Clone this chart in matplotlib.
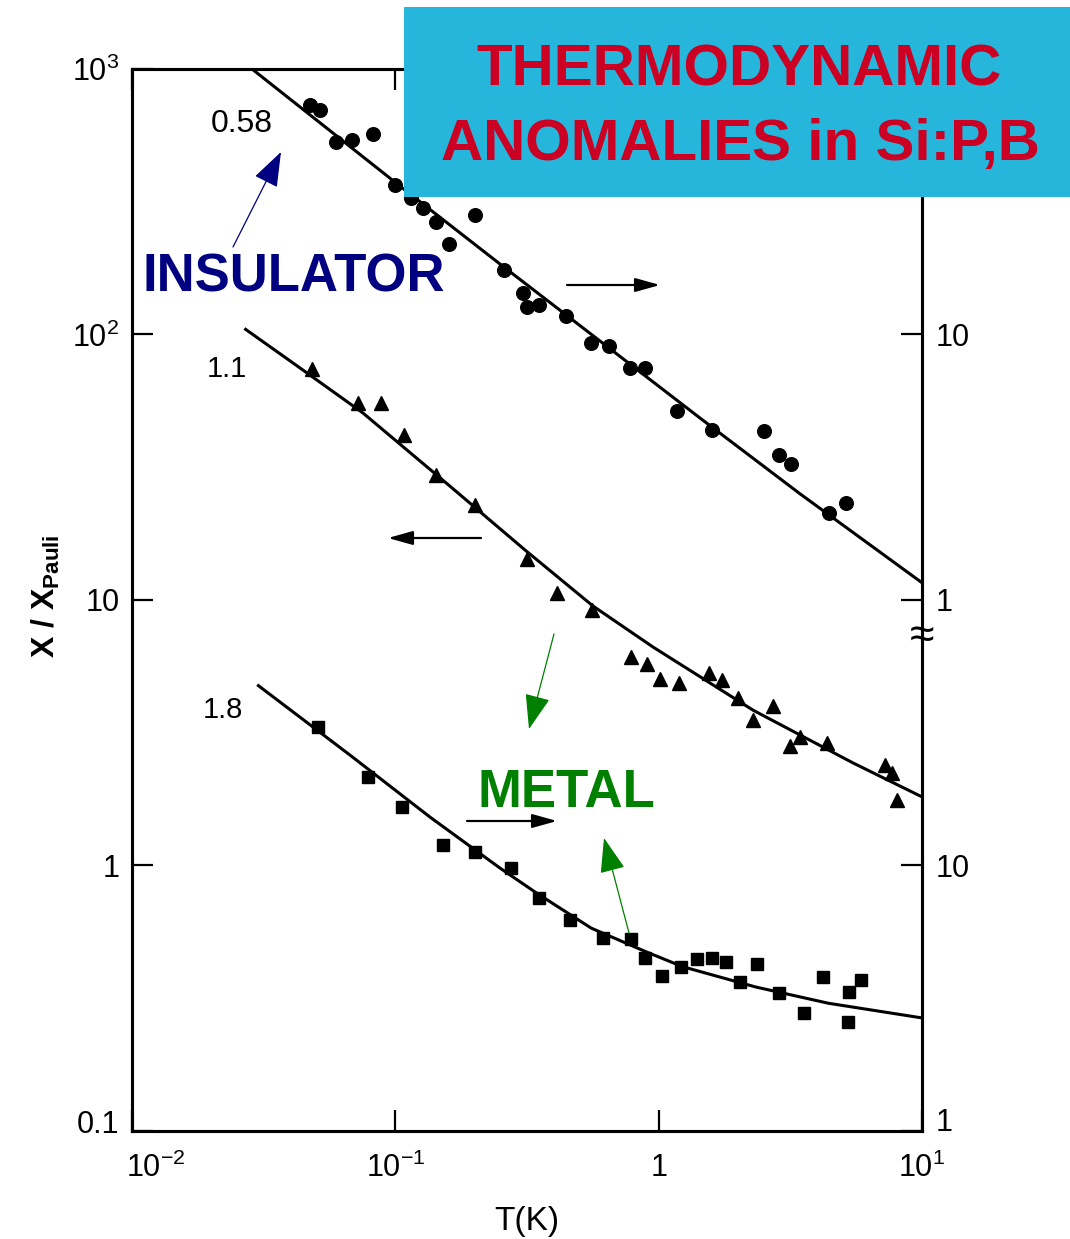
import matplotlib
matplotlib.use('Agg')
import matplotlib.pyplot as plt
from matplotlib.patches import Rectangle, FancyArrowPatch, ArrowStyle
from matplotlib.transforms import ScaledTranslation

plt.rcParams['font.family'] = ['Liberation Sans', 'DejaVu Sans']
plt.rcParams['mathtext.fontset'] = 'custom'
plt.rcParams['mathtext.rm'] = 'Liberation Sans'
plt.rcParams['mathtext.it'] = 'Liberation Sans:italic'
plt.rcParams['mathtext.bf'] = 'Liberation Sans:bold'

# ---------------- data ----------------
# n/nc = 0.58 (circles, right axis)
T_058 = [0.0474, 0.0518, 0.0593, 0.0682, 0.0820, 0.0998, 0.115, 0.127, 0.143,
         0.160, 0.201, 0.258, 0.305, 0.315, 0.352, 0.445, 0.553, 0.649, 0.778,
         0.885, 1.17, 1.60, 2.51, 2.86, 3.18, 4.42, 5.15]
chi_058 = [731, 701, 532, 542, 569, 366, 327, 299, 265, 219, 282, 175, 143, 127,
           129, 117, 92.9, 90.6, 74.7, 75.0, 51.4, 43.6, 43.4, 35.2, 32.5, 21.2, 23.2]
fitT_058 = [0.02856, 0.1042, 0.250, 0.599, 1.436, 3.44, 10.0]
fitchi_058 = [1000, 362, 184, 94.4, 48.4, 25.1, 11.6]

# n/nc = 1.1 (triangles, left axis)
T_11 = [0.0481, 0.0724, 0.0882, 0.1075, 0.1423, 0.201, 0.316, 0.411, 0.557,
        0.783, 0.906, 1.01, 1.198, 1.549, 1.737, 2.008, 2.289, 2.727, 3.155,
        3.444, 4.348, 7.24, 7.68, 8.02]
chi_11 = [73.9, 55.0, 55.0, 41.8, 29.5, 22.8, 14.3, 10.65, 9.15, 6.10, 5.73,
          5.02, 4.85, 5.29, 4.99, 4.25, 3.52, 3.98, 2.82, 3.05, 2.90, 2.38, 2.22, 1.76]
fitT_11 = [0.0270, 0.0435, 0.0753, 0.1613, 0.311, 0.563, 0.952, 2.283, 5.47, 10.0]
fitchi_11 = [104.5, 74.7, 50.6, 26.8, 15.4, 9.48, 6.64, 3.84, 2.43, 1.81]

# n/nc = 1.8 (squares, right axis)
T_18 = [0.0510, 0.0790, 0.1057, 0.1522, 0.201, 0.276, 0.3526, 0.4607, 0.6166,
        0.783, 0.890, 1.027, 1.213, 1.399, 1.591, 1.795, 2.034, 2.371, 2.871,
        3.566, 4.226, 5.232, 5.301, 5.887]
chi_18 = [3.33, 2.155, 1.661, 1.191, 1.124, 0.976, 0.750, 0.622, 0.530, 0.527,
          0.446, 0.382, 0.415, 0.442, 0.446, 0.433, 0.364, 0.424, 0.331, 0.278,
          0.380, 0.256, 0.334, 0.369]
fitT_18 = [0.0302, 0.0673, 0.1354, 0.2497, 0.3438, 0.554, 0.896, 1.232, 2.333, 4.42, 10.0]
fitchi_18 = [4.75, 2.60, 1.519, 0.976, 0.786, 0.580, 0.472, 0.415, 0.348, 0.302, 0.266]

xticks = [0.01, 0.1, 1, 10]
xticklabels = [r'$\mathregular{10^{-2}}$', r'$\mathregular{10^{-1}}$', '1',
               r'$\mathregular{10^{1}}$']
yticks = [0.1, 1, 10, 100, 1000]
yticklabels = ['0.1', '1', '10', r'$\mathregular{10^{2}}$', r'$\mathregular{10^{3}}$']
rticks = [100, 10, 1, 0.1]
rticklabels = ['10', '1', '10', '1']
series_labels = ['0.58', '1.1', '1.8']

# ---------------- figure ----------------
W, H = 1070, 1239
fig = plt.figure(figsize=(W / 100, H / 100), dpi=100)


def fx(px):
    return px / W


def fy(py):
    return 1 - py / H


ax = fig.add_axes([132 / W, 1 - 1130.7 / H, 790 / W, 1061.7 / H])
ax.set_xscale('log')
ax.set_yscale('log')
ax.set_xlim(0.01, 10)
ax.set_ylim(0.1, 1000)

lw_fit = 2.2
ax.plot(fitT_058, fitchi_058, color='black', lw=lw_fit, zorder=2)
ax.plot(fitT_11, fitchi_11, color='black', lw=lw_fit, zorder=2)
ax.plot(fitT_18, fitchi_18, color='black', lw=lw_fit, zorder=2)
ax.plot(T_058, chi_058, 'o', color='black', ms=9.8, zorder=3)
ax.plot(T_11, chi_11, '^', color='black', ms=10, zorder=3)
ax.plot(T_18, chi_18, 's', color='black', ms=9.3, zorder=3)

for s in ax.spines.values():
    s.set_linewidth(2.2)

ax.set_xticks(xticks)
ax.set_xticklabels(xticklabels)
ax.set_yticks(yticks)
ax.set_yticklabels(yticklabels)
ax.minorticks_off()
ax.tick_params(axis='x', which='both', direction='in', length=15, width=1.6,
               labelsize=22, pad=16, top=True)
ax.tick_params(axis='y', which='both', direction='in', length=15, width=1.6,
               labelsize=22, pad=9)
ax.minorticks_off()

ax2 = ax.twinx()
ax2.set_yscale('log')
ax2.set_ylim(ax.get_ylim())
ax2.set_yticks(rticks)
ax2.set_yticklabels(rticklabels)
ax2.minorticks_off()
ax2.tick_params(axis='y', which='both', direction='in', length=15, width=1.6,
                labelsize=22, pad=10)
for s in ax2.spines.values():
    s.set_linewidth(2.2)

# small label offsets like the original
lab0 = ax.get_xticklabels()[0]
lab0.set_transform(lab0.get_transform() + ScaledTranslation(0.24, 0, fig.dpi_scale_trans))
laby0 = ax.get_yticklabels()[0]
laby0.set_transform(laby0.get_transform() + ScaledTranslation(0, 0.09, fig.dpi_scale_trans))
labr = ax2.get_yticklabels()[-1]
labr.set_transform(labr.get_transform() + ScaledTranslation(0, 0.11, fig.dpi_scale_trans))

ax.set_xlabel('T(K)', fontsize=24)
ax.xaxis.set_label_coords(0.5, -0.071)
ax.set_ylabel(r'$\mathbf{X\ /\ X_{Pauli}}$', fontsize=23)
ax.yaxis.set_label_coords(-0.088, 0.503)

# axis break symbol on right spine
ax.text(1.0, 7.3, '≈', transform=ax.get_yaxis_transform(), ha='center',
        va='center', fontsize=32, color='black', zorder=5)

# curve labels
fig.text(fx(242), fy(132), series_labels[0], fontsize=23, ha='center', va='baseline')
fig.text(fx(227), fy(377), series_labels[1], fontsize=21, ha='center', va='baseline')
fig.text(fx(223), fy(718), series_labels[2], fontsize=21, ha='center', va='baseline')


def arrow(p0, p1, color, lw, hl, hw, z=4):
    a = FancyArrowPatch((fx(p0[0]), fy(p0[1])), (fx(p1[0]), fy(p1[1])),
                        transform=fig.transFigure,
                        arrowstyle=ArrowStyle('-|>', head_length=hl, head_width=hw),
                        mutation_scale=1, lw=lw, color=color,
                        shrinkA=0, shrinkB=0, zorder=z)
    fig.add_artist(a)


# black direction arrows
arrow((567, 285), (660, 285), 'black', 1.6, 15, 4.2)
arrow((481, 538), (388, 538), 'black', 1.6, 15, 4.2)
arrow((467, 821), (557, 821), 'black', 1.6, 15, 4.2)

# coloured annotations
arrow((233, 247), (281, 152), '#000080', 0.9, 22, 8)
fig.text(fx(294), fy(292), 'INSULATOR', fontsize=38, fontweight='bold',
         color='#000080', ha='center', va='baseline', zorder=6)
arrow((554, 634), (529, 729), '#008000', 0.9, 22, 8)
arrow((629, 933), (604, 838), '#008000', 0.9, 22, 8)
fig.text(fx(566), fy(807), 'METAL', fontsize=38, fontweight='bold',
         color='#008000', ha='center', va='baseline', zorder=6)

# title box
box = Rectangle((fx(404), fy(197)), (1070 - 404) / W, (197 - 7) / H,
                transform=fig.transFigure, facecolor='#26B6DB', edgecolor='none',
                zorder=10)
fig.add_artist(box)
fig.text(fx(739), fy(85), 'THERMODYNAMIC', fontsize=42, fontweight='bold',
         color='#CC0022', ha='center', va='baseline', zorder=11)
fig.text(fx(740), fy(160), 'ANOMALIES in Si:P,B', fontsize=42, fontweight='bold',
         color='#CC0022', ha='center', va='baseline', zorder=11)

fig.savefig('out.png', dpi=100)
